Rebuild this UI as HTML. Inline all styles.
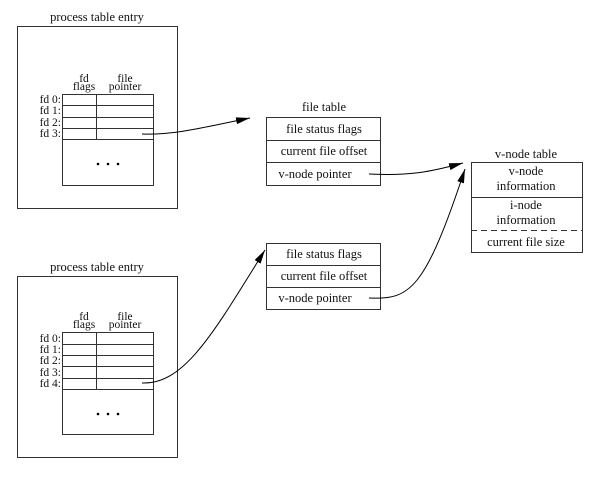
<!DOCTYPE html>
<html><head><style>
body{margin:0;background:#fff;}
svg text{font-family:"Liberation Serif",serif;fill:#111;}
</style></head><body>
<svg width="605" height="473" viewBox="0 0 605 473" xmlns="http://www.w3.org/2000/svg">
<defs><marker id="a" markerWidth="14" markerHeight="7" refX="14" refY="3.5" orient="auto" markerUnits="userSpaceOnUse"><path d="M0,0 L14,3.5 L0,7 Z" fill="#000"/></marker></defs>
<g stroke="#333" fill="none" stroke-width="1">
<rect x="17.5" y="26.5" width="160" height="182"/>
<rect x="62.5" y="94.5" width="91" height="91"/>
<line x1="62" y1="105.5" x2="153" y2="105.5"/><line x1="62" y1="117.5" x2="153" y2="117.5"/>
<line x1="62" y1="128.5" x2="153" y2="128.5"/><line x1="62" y1="139.5" x2="153" y2="139.5"/>
<line x1="96.5" y1="94" x2="96.5" y2="139"/>
<rect x="17.5" y="276.5" width="160" height="181"/>
<rect x="62.5" y="332.5" width="91" height="102"/>
<line x1="62" y1="344.5" x2="153" y2="344.5"/><line x1="62" y1="355.5" x2="153" y2="355.5"/>
<line x1="62" y1="366.5" x2="153" y2="366.5"/><line x1="62" y1="378.5" x2="153" y2="378.5"/>
<line x1="62" y1="389.5" x2="153" y2="389.5"/>
<line x1="96.5" y1="332" x2="96.5" y2="389"/>
<rect x="266.5" y="117.5" width="114" height="68"/>
<line x1="266" y1="140.5" x2="380" y2="140.5"/><line x1="266" y1="162.5" x2="380" y2="162.5"/>
<rect x="266.5" y="243.5" width="114" height="66"/>
<line x1="266" y1="265.5" x2="380" y2="265.5"/><line x1="266" y1="287.5" x2="380" y2="287.5"/>
<rect x="471.5" y="162.5" width="111" height="90"/>
<line x1="471" y1="197.5" x2="582" y2="197.5"/>
<line x1="471" y1="230.5" x2="582" y2="230.5" stroke-dasharray="6,4"/>
</g>
<g stroke="#000" fill="none" stroke-width="1">
<path d="M142,134 C175,135 200,128 250,118" marker-end="url(#a)"/>
<path d="M369,174 C410,176 430,172 463,163" marker-end="url(#a)"/>
<path d="M142,383 C185,385 215,330 265,250" marker-end="url(#a)"/>
<path d="M369,298 C410,300 425,290 465,169" marker-end="url(#a)"/>
</g>
<g fill="#000"><circle cx="98" cy="164" r="1.3"/><circle cx="108" cy="164" r="1.3"/><circle cx="118" cy="164" r="1.3"/>
<circle cx="98" cy="414" r="1.3"/><circle cx="108" cy="414" r="1.3"/><circle cx="118" cy="414" r="1.3"/></g>
<g font-size="12.5">
<text x="97" y="21" text-anchor="middle">process table entry</text>
<text x="97" y="271" text-anchor="middle">process table entry</text>
<text x="324" y="111" text-anchor="middle">file table</text>
<text x="324" y="133" text-anchor="middle">file status flags</text>
<text x="324" y="155" text-anchor="middle">current file offset</text>
<text x="315" y="178" text-anchor="middle">v-node pointer</text>
<text x="324" y="258" text-anchor="middle">file status flags</text>
<text x="324" y="280" text-anchor="middle">current file offset</text>
<text x="315" y="302" text-anchor="middle">v-node pointer</text>
<text x="526" y="158" text-anchor="middle">v-node table</text>
<text x="526" y="175" text-anchor="middle">v-node</text>
<text x="526" y="190" text-anchor="middle">information</text>
<text x="526" y="209" text-anchor="middle">i-node</text>
<text x="526" y="224" text-anchor="middle">information</text>
<text x="526" y="246" text-anchor="middle">current file size</text>
</g>
<g font-size="11.5">
<text x="84" y="82" text-anchor="middle">fd</text><text x="84" y="90" text-anchor="middle">flags</text>
<text x="125" y="82" text-anchor="middle">file</text><text x="125" y="90" text-anchor="middle">pointer</text>
<text x="84" y="320" text-anchor="middle">fd</text><text x="84" y="328" text-anchor="middle">flags</text>
<text x="125" y="320" text-anchor="middle">file</text><text x="125" y="328" text-anchor="middle">pointer</text>
<g text-anchor="end">
<text x="61" y="103">fd 0:</text><text x="61" y="114">fd 1:</text><text x="61" y="126">fd 2:</text><text x="61" y="137">fd 3:</text>
<text x="61" y="342">fd 0:</text><text x="61" y="353">fd 1:</text><text x="61" y="364">fd 2:</text><text x="61" y="376">fd 3:</text><text x="61" y="387">fd 4:</text>
</g>
</g>
</svg>
</body></html>
